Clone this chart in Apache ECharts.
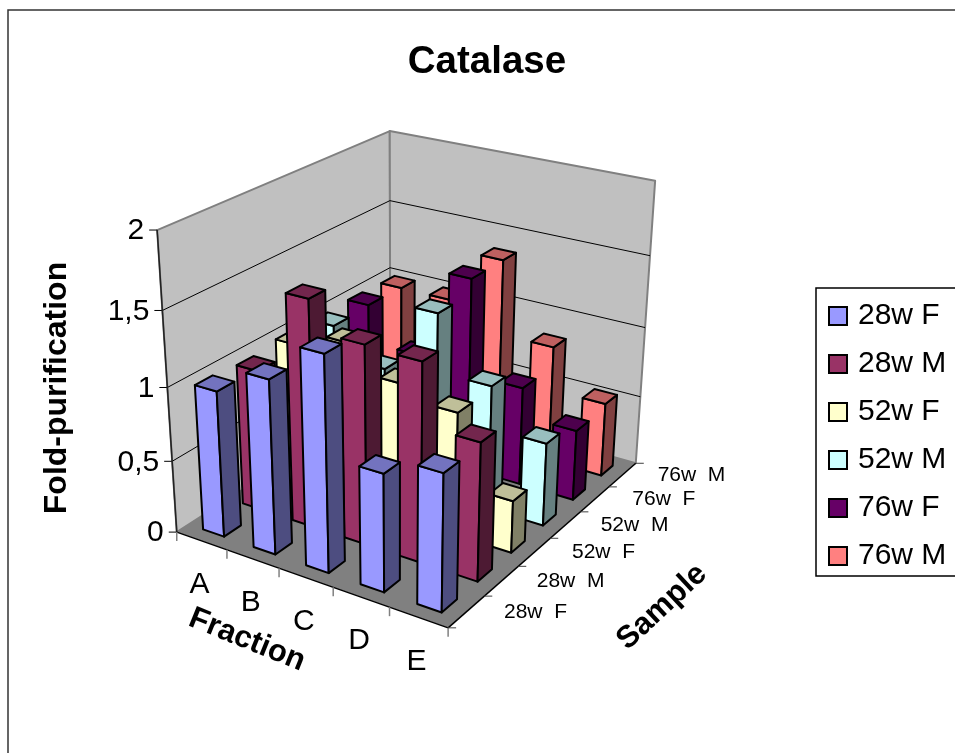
<!DOCTYPE html>
<html>
<head>
<meta charset="utf-8">
<style>html,body{margin:0;padding:0;background:#fff}#c{width:955px;height:753px}</style>
<script src="https://cdn.jsdelivr.net/npm/echarts@6/dist/echarts.min.js"></script>
</head>
<body>
<div id="c"></div>
<script>
const fractions = ['A','B','C','D','E'];
const samples = ['28w F','28w M','52w F','52w M','76w F','76w M'];
const sampleTicks = ['28w  F','28w  M','52w  F','52w  M','76w  F','76w  M'];
const valueTicks = [0,0.5,1,1.5,2];
const valueTickLabels = ['0','0,5','1','1,5','2'];
const v28wF = [1.0,1.18,1.44,0.79,0.91];
const v28wM = [0.98,1.55,1.35,1.34,0.93];
const v52wF = [1.01,1.12,0.94,0.85,0.36];
const v52wM = [1.0,0.79,1.27,0.87,0.58];
const v76wF = [1.01,0.74,1.37,0.7,0.5];
const v76wM = [1.0,1.0,1.37,0.84,0.53];
const sampleValues = [v28wF,v28wM,v52wF,v52wM,v76wF,v76wM];
const sampleColors = ['#9999FF','#993366','#FFFFCC','#CCFFFF','#660066','#FF8080'];

// Perspective camera fitted to the plot box: [fraction 0..1, sample 0..1, value 0..1] -> pixel
const box = [
  [0,0,0,177,532],[1,0,0,448,628],[1,1,0,636,463],[0,1,0,390,395],
  [0,0,1,157,230],[0,1,1,390,131],[1,1,1,655,181]
];
function fitCamera(pts){
  const A=[],b=[];
  pts.forEach(([x,y,z,u,v])=>{
    A.push([x,y,z,1,0,0,0,0,-u*x,-u*y,-u*z]);b.push(u);
    A.push([0,0,0,0,x,y,z,1,-v*x,-v*y,-v*z]);b.push(v);
  });
  const n=11,M=[];
  for(let i=0;i<n;i++){M.push(new Array(n+1).fill(0));
    for(let j=0;j<n;j++)for(let k=0;k<A.length;k++)M[i][j]+=A[k][i]*A[k][j];
    for(let k=0;k<A.length;k++)M[i][n]+=A[k][i]*b[k];}
  for(let i=0;i<n;i++){let p=i;for(let r=i+1;r<n;r++)if(Math.abs(M[r][i])>Math.abs(M[p][i]))p=r;
    [M[i],M[p]]=[M[p],M[i]];
    for(let r=0;r<n;r++){if(r===i)continue;const f=M[r][i]/M[i][i];for(let c=i;c<=n;c++)M[r][c]-=f*M[i][c];}}
  return M.map((row,i)=>row[n]/row[i]);
}
const cam = fitCamera(box);
function project(x,y,z){
  const w=cam[8]*x+cam[9]*y+cam[10]*z+1;
  return [(cam[0]*x+cam[1]*y+cam[2]*z+cam[3])/w,(cam[4]*x+cam[5]*y+cam[6]*z+cam[7])/w];
}
const maxValue = 2;
function pt(fx,sy,val){return project(fx/fractions.length,sy/samples.length,val/maxValue);}
function shade(hex,f){
  const n=parseInt(hex.slice(1),16);
  const c=[n>>16,(n>>8)&255,n&255].map(v=>Math.round(v*f));
  return 'rgb('+c.join(',')+')';
}
function poly(points,fill,stroke,lw){
  return {type:'polygon',shape:{points},style:{fill,stroke:stroke||null,lineWidth:lw||0,lineJoin:'round'},silent:true};
}
const barW=0.42, barD=0.42;
function renderBar(color){
  return function(params,api){
    const fi=api.value(0), si=api.value(1), v=api.value(2);
    const x0=fi+(1-barW)/2,x1=x0+barW,y0=si+(1-barD)/2,y1=y0+barD;
    const k='#000';
    return {type:'group',children:[
      poly([pt(x0,y0,0),pt(x1,y0,0),pt(x1,y0,v),pt(x0,y0,v)],color,k,2),
      poly([pt(x1,y0,0),pt(x1,y1,0),pt(x1,y1,v),pt(x1,y0,v)],shade(color,0.5),k,2),
      poly([pt(x0,y0,v),pt(x1,y0,v),pt(x1,y1,v),pt(x0,y1,v)],shade(color,0.75),k,2)
    ]};
  };
}
function line(a,b,color,w){
  return {type:'line',shape:{x1:a[0],y1:a[1],x2:b[0],y2:b[1]},style:{stroke:color,lineWidth:w},silent:true};
}
function text(s,x,y,size,align,extra){
  return Object.assign({type:'text',x,y,silent:true,style:{text:s,fill:'#000',font:size+'px "Liberation Sans"',textAlign:align||'center',textVerticalAlign:'middle'}},extra||{});
}
function renderBackdrop(){
  const nx=fractions.length,ny=samples.length,ch=[];
  ch.push(poly([pt(0,0,0),pt(0,ny,0),pt(0,ny,maxValue),pt(0,0,maxValue)],'#C0C0C0','#808080',2));
  ch.push(poly([pt(0,ny,0),pt(nx,ny,0),pt(nx,ny,maxValue),pt(0,ny,maxValue)],'#C0C0C0','#808080',2));
  ch.push(poly([pt(0,0,0),pt(nx,0,0),pt(nx,ny,0),pt(0,ny,0)],'#808080'));
  valueTicks.forEach((t,i)=>{
    if(t>0&&t<maxValue){
      ch.push(line(pt(0,0,t),pt(0,ny,t),'#000',1));
      ch.push(line(pt(0,ny,t),pt(nx,ny,t),'#000',1));
    }
    const p=pt(0,0,t);
    ch.push(line([p[0]-8,p[1]],p,'#000',1));
    ch.push(text(valueTickLabels[i],p[0]-13,p[1]+1,30,'right'));
  });
  ch.push(line(pt(0,0,0),pt(0,0,maxValue),'#222',1.5));
  ch.push(line(pt(0,0,0),pt(nx,0,0),'#000',1.5));
  ch.push(line(pt(nx,0,0),pt(nx,ny,0),'#000',1.5));
  for(let i=0;i<=nx;i++){const p=pt(i,0,0);ch.push(line(p,[p[0],p[1]+9],'#808080',1.5));}
  for(let j=0;j<=ny;j++){const p=pt(nx,j,0);ch.push(line(p,[p[0]+8,p[1]],'#404040',1));}
  fractions.forEach((f,i)=>{const p=pt(i+0.5,0,0);ch.push(text(f,p[0]-2,p[1]+44,30));});
  sampleTicks.forEach((s,j)=>{const p=pt(nx,j+0.5,0);ch.push(text(s,p[0]+69,p[1],21));});
  return {type:'group',children:ch};
}
const bold=n=>'bold '+n+'px "Liberation Sans"';
const series=[{type:'custom',name:'_plot',coordinateSystem:'none',silent:true,animation:false,data:[[0]],renderItem:renderBackdrop}];
// back rows are painted first so that nearer bars cover them
for(let s=samples.length-1;s>=0;s--){
  series.push({type:'custom',name:samples[s],coordinateSystem:'none',silent:true,animation:false,clip:false,
    itemStyle:{color:sampleColors[s]},
    data:sampleValues[s].map((v,i)=>[i,s,v]),renderItem:renderBar(sampleColors[s])});
}
const chart=echarts.init(document.getElementById('c'),null,{renderer:'canvas'});
chart.setOption({
  animation:false,backgroundColor:'#fff',
  title:{text:'Catalase',left:482,top:57,textAlign:'center',textVerticalAlign:'middle',
    textStyle:{fontFamily:'Liberation Sans',fontWeight:'bold',fontSize:38.5,color:'#000'}},
  legend:{data:samples,orient:'vertical',left:823,top:294,itemWidth:18,itemHeight:18,itemGap:14,icon:'rect',selectedMode:false,
    itemStyle:{borderColor:'#000',borderWidth:2},
    textStyle:{fontFamily:'Liberation Sans',fontSize:30,color:'#000',padding:[0,0,0,6],lineHeight:34}},
  graphic:[
    {type:'rect',z:-1,shape:{x:8,y:10,width:1100,height:900},style:{fill:'#fff',stroke:'#333',lineWidth:1.5},silent:true},
    {type:'rect',z:-1,shape:{x:816,y:288,width:300,height:288},style:{fill:'#fff',stroke:'#000',lineWidth:1.5},silent:true},
    {type:'text',x:57,y:388,rotation:Math.PI/2,silent:true,style:{text:'Fold-purification',font:bold(32),textAlign:'center',textVerticalAlign:'middle',fill:'#000'}},
    {type:'text',x:247,y:640,rotation:-22*Math.PI/180,silent:true,style:{text:'Fraction',font:bold(31),textAlign:'center',textVerticalAlign:'middle',fill:'#000'}},
    {type:'text',x:662,y:607,rotation:43*Math.PI/180,silent:true,style:{text:'Sample',font:bold(31),textAlign:'center',textVerticalAlign:'middle',fill:'#000'}}
  ],
  series
});
</script>
</body>
</html>
